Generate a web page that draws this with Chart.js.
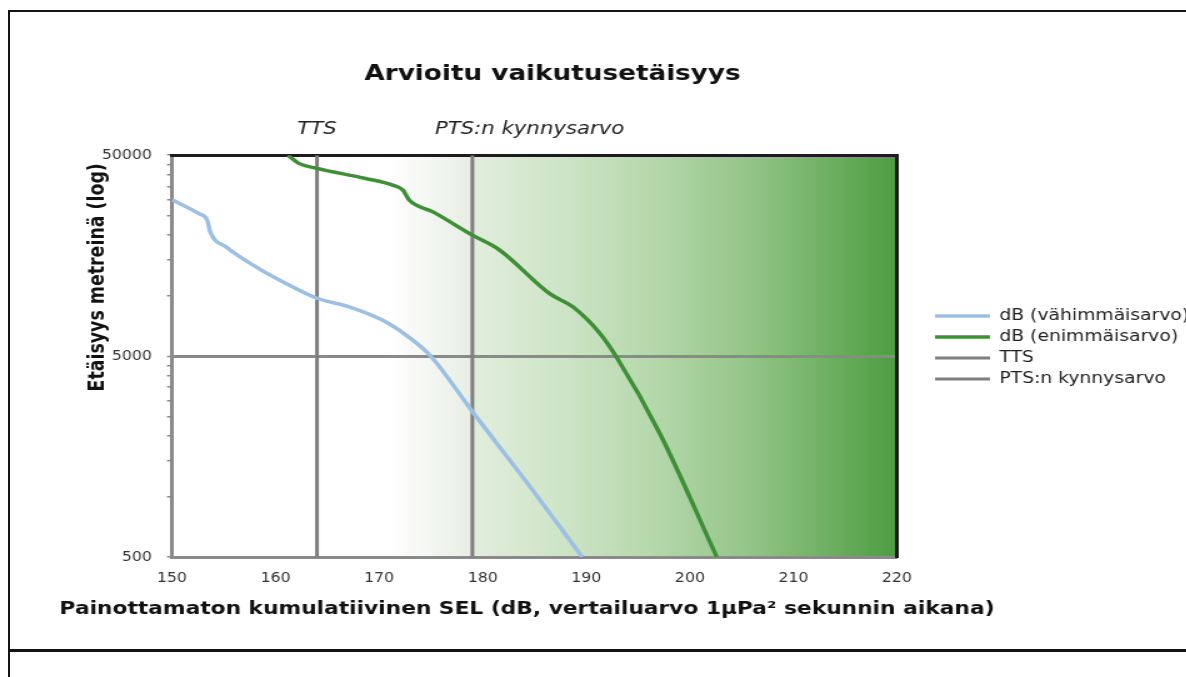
<!DOCTYPE html>
<html lang="fi">
<head>
<meta charset="utf-8">
<title>Arvioitu vaikutusetäisyys</title>
<script src="https://cdn.jsdelivr.net/npm/chart.js@4/dist/chart.umd.min.js"></script>
<style>
  html, body { margin: 0; padding: 0; background: #fff; overflow: hidden; }
  .box { position: absolute; left: 8px; width: 1400px; border: 2px solid #141414; box-sizing: border-box; }
  #top-box { top: 10px; height: 641px; }
  #bottom-box { top: 650px; height: 100px; }
  /* the figure is drawn narrow and stretched sideways, like the exported original */
  #chart { position: absolute; left: 0; top: 0; transform: scaleX(1.25); transform-origin: 0 0; }
</style>
</head>
<body>
<div class="box" id="top-box"></div>
<div class="box" id="bottom-box"></div>
<canvas id="chart" width="952" height="640"></canvas>
<script>
// SEL (dB) vs. distance (m), lower estimate
const minSel  = [150, 152.6, 153.4, 153.7, 155.2, 158.1, 161.0, 164.0, 167.1, 170.3, 172.6, 174.9, 179.0, 184.8, 189.6];
const minDist = [30000, 25600, 23800, 20700, 17500, 13900, 11500, 9700, 8800, 7560, 6360, 5050, 2650, 1080, 500];

// SEL (dB) vs. distance (m), upper estimate
const maxSel  = [161.2, 162.3, 164.0, 168.7, 171.3, 172.3, 172.9, 175.2, 179.0, 181.6, 186.5, 188.7, 191.3, 192.9, 197.1, 202.6];
const maxDist = [50000, 45400, 43000, 38300, 35500, 33500, 29900, 26100, 20000, 16900, 10200, 8800, 6500, 4960, 2060, 500];

// threshold levels (dB)
const thresholdNames  = ['TTS', 'PTS:n kynnysarvo'];
const thresholdLevels = [164, 179];

// axes
const selRange   = [150, 220];
const distRange  = [500, 50000];
const distTicks  = [500, 1000, 1500, 2000, 2500, 3000, 3500, 4000, 4500, 5000,
                    10000, 15000, 20000, 25000, 30000, 35000, 40000, 45000, 50000];
const distLabels = [500, 5000, 50000];
const xAxisTitle = 'Painottamaton kumulatiivinen SEL (dB, vertailuarvo 1µPa² sekunnin aikana)';
const yAxisTitle = 'Etäisyys metreinä (log)';

const FONT = '"DejaVu Sans", Verdana, sans-serif';
const NUM_FONT = '"DejaVu Sans Condensed", "DejaVu Sans", sans-serif';
const AXIS_GREY = '#8a8a8a';
const FRAME = '#1c1c1c';
const SHIFT = 68; // pulls the full-width title block left of the canvas edge

const toPoints = (xs, ys) => xs.map((x, i) => ({ x: x, y: ys[i] }));
const vertical = level => [{ x: level, y: distRange[0] }, { x: level, y: distRange[1] }];

// green shading that deepens towards high SEL values
const shadePlugin = {
  id: 'shade',
  beforeDraw(chart) {
    const { ctx, chartArea: a, scales: { x } } = chart;
    const fadeStart = x.getPixelForValue(171);
    const pts = x.getPixelForValue(thresholdLevels[1]);
    ctx.save();

    let g = ctx.createLinearGradient(fadeStart, 0, pts, 0);
    g.addColorStop(0, 'rgba(255,255,255,1)');
    g.addColorStop(1, '#e8eee4');
    ctx.fillStyle = g;
    ctx.fillRect(fadeStart, a.top, pts - fadeStart, a.bottom - a.top);

    g = ctx.createLinearGradient(pts, 0, a.right, 0);
    g.addColorStop(0, '#e2eedd');
    g.addColorStop(0.22, '#cde4c6');
    g.addColorStop(0.43, '#b5d8ab');
    g.addColorStop(0.65, '#94c588');
    g.addColorStop(0.82, '#72b266');
    g.addColorStop(1, '#4e9c42');
    ctx.fillStyle = g;
    ctx.fillRect(pts, a.top, a.right - pts, a.bottom - a.top);
    ctx.restore();
  }
};

// threshold names above the plot, and the two axis titles
// (the long x title must not be squeezed into the plot width)
const captions = {
  id: 'captions',
  afterDraw(chart) {
    const { ctx, chartArea: a, scales: { x } } = chart;
    ctx.save();
    ctx.fillStyle = '#222';
    ctx.textBaseline = 'middle';

    ctx.font = 'italic 17px ' + FONT;
    ctx.textAlign = 'center';
    ctx.fillText(thresholdNames[0], x.getPixelForValue(thresholdLevels[0]), 130);
    ctx.textAlign = 'left';
    ctx.fillText(thresholdNames[1], x.getPixelForValue(thresholdLevels[1]) - 30, 130);

    ctx.fillStyle = '#111';
    ctx.font = 'bold 17.4px ' + FONT;
    ctx.textAlign = 'center';
    ctx.fillText(xAxisTitle, (a.left + a.right) / 2 - 6, 609);

    ctx.translate(a.left - 59, a.top + 8);
    ctx.rotate(-Math.PI / 2);
    ctx.textAlign = 'right';
    ctx.fillText(yAxisTitle, 0, 0);
    ctx.restore();
  }
};

new Chart(document.getElementById('chart'), {
  type: 'line',
  data: {
    datasets: [
      {
        label: 'dB (vähimmäisarvo)',
        data: toPoints(minSel, minDist),
        borderColor: '#9cc0e4',
        backgroundColor: '#9cc0e4',
        borderWidth: 3.5,
        cubicInterpolationMode: 'monotone',
        xAxisID: 'x', yAxisID: 'y'
      },
      {
        label: 'dB (enimmäisarvo)',
        data: toPoints(maxSel, maxDist),
        borderColor: '#3f8f37',
        backgroundColor: '#3f8f37',
        borderWidth: 3.5,
        cubicInterpolationMode: 'monotone',
        xAxisID: 'x', yAxisID: 'y'
      },
      {
        label: thresholdNames[0],
        data: vertical(thresholdLevels[0]),
        borderColor: '#7f7f7f',
        backgroundColor: '#7f7f7f',
        borderWidth: 3,
        xAxisID: 'x', yAxisID: 'y'
      },
      {
        label: thresholdNames[1],
        data: vertical(thresholdLevels[1]),
        borderColor: '#7f7f7f',
        backgroundColor: '#7f7f7f',
        borderWidth: 3,
        xAxisID: 'x', yAxisID: 'y'
      }
    ]
  },
  options: {
    responsive: false,
    animation: false,
    elements: { point: { radius: 0, hoverRadius: 0 } },
    layout: { padding: { left: -SHIFT, right: 0, top: 0, bottom: 0 } },
    scales: {
      x: {
        type: 'linear',
        min: selRange[0], max: selRange[1],
        afterFit: s => { s.height = 83; },
        ticks: { stepSize: 10, padding: 13, color: '#333', font: { family: NUM_FONT, size: 14 } },
        grid: { display: false, drawTicks: false },
        border: { color: AXIS_GREY, width: 3 }
      },
      y: {
        type: 'logarithmic',
        min: distRange[0], max: distRange[1],
        afterBuildTicks: s => { s.ticks = distTicks.map(v => ({ value: v })); },
        afterFit: s => { s.width = 137.6 + SHIFT; },
        ticks: {
          autoSkip: false,
          padding: 12,
          color: '#333',
          font: { family: NUM_FONT, size: 14 },
          callback: v => distLabels.includes(v) ? String(v) : ''
        },
        grid: {
          color: c => (c.tick && c.tick.value === 5000) ? AXIS_GREY : 'rgba(0,0,0,0)',
          lineWidth: c => (c.tick && c.tick.value === 5000) ? 3 : 1.5,
          tickColor: AXIS_GREY,
          tickWidth: 1.5,
          tickLength: 4
        },
        border: { color: AXIS_GREY, width: 3 }
      },
      xTop: {
        type: 'linear',
        position: 'top',
        min: selRange[0], max: selRange[1],
        afterFit: s => { s.height = 0; },
        ticks: { display: false },
        grid: { display: false, drawTicks: false },
        border: { color: FRAME, width: 3 }
      },
      yRight: {
        type: 'logarithmic',
        position: 'right',
        min: distRange[0], max: distRange[1],
        afterFit: s => { s.width = 24.4; },
        ticks: { display: false },
        grid: { display: false, drawTicks: false },
        border: { color: FRAME, width: 3 }
      }
    },
    plugins: {
      title: {
        display: true,
        fullSize: true,
        text: 'Arvioitu vaikutusetäisyys',
        color: '#111',
        font: { family: FONT, size: 21, weight: 'bold' },
        padding: { top: 62, bottom: 68 }
      },
      legend: {
        position: 'right',
        fullSize: false,
        align: 'start',
        maxWidth: 210,
        // empty title used as a spacer above the entries
        title: { display: true, text: '', font: { size: 12 }, padding: { top: 66, bottom: 67 } },
        labels: {
          usePointStyle: true,
          pointStyle: 'line',
          pointStyleWidth: 44,
          padding: 6,
          color: '#222',
          font: { family: FONT, size: 15 }
        }
      },
      tooltip: { enabled: false }
    }
  },
  plugins: [shadePlugin, captions]
});
</script>
</body>
</html>
